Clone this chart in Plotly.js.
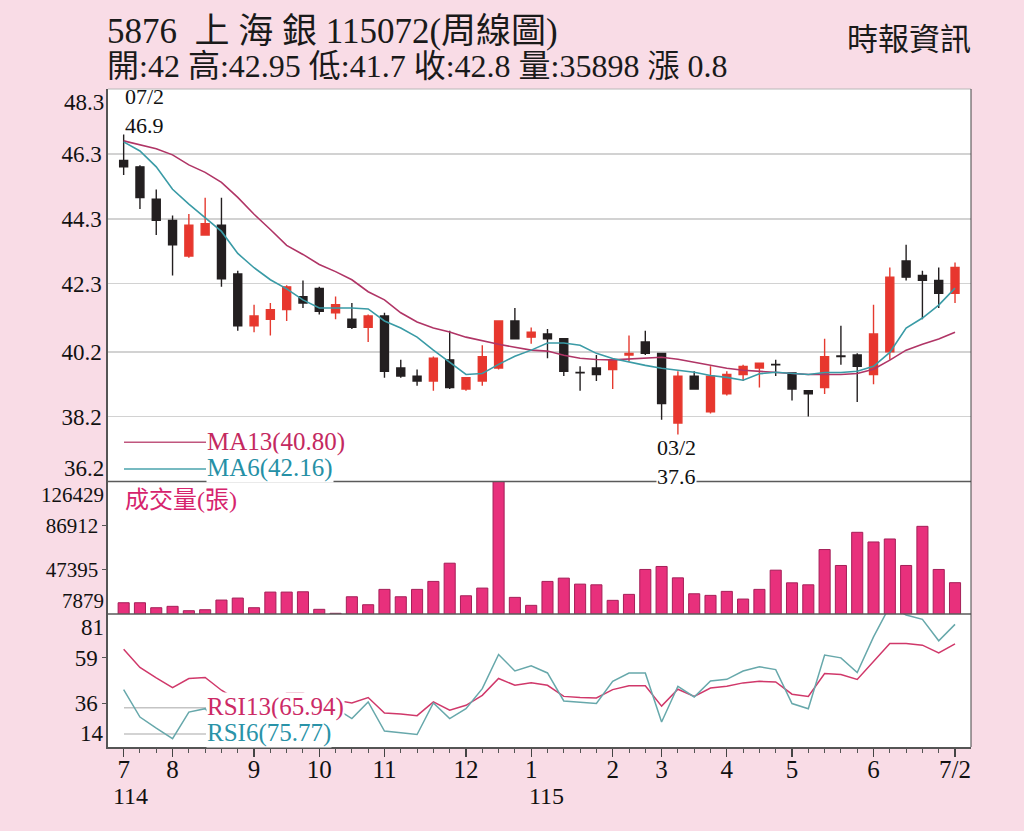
<!DOCTYPE html>
<html>
<head>
<meta charset="utf-8">
<script src="https://cdn.plot.ly/plotly-3.0.1.min.js"></script>
<style>
html,body{margin:0;padding:0;background:#f9dce6;}
#chart{width:1024px;height:831px;}
</style>
</head>
<body>
<div id="chart"></div>
<script>
// ---------- data ----------
const monthTickIdx  = [0, 3, 8, 12, 16, 21, 25, 30, 33, 37, 41, 46, 51];
const monthTickText = ['7','8','9','10','11','12','1','2','3','4','5','6','7/2'];

const openP  = [46.1,45.9,44.9,44.25,43.15,43.8,44.1,42.6,41.0,41.2,41.5,41.9,42.15,41.4,41.2,40.95,41.3,39.7,39.45,39.3,39.95,39.05,39.3,39.7,41.15,40.65,40.75,40.6,39.56,39.7,39.65,40.1,40.5,40.15,38.0,39.45,38.35,38.9,39.5,39.7,39.81,39.55,39.0,39.1,40.07,40.1,39.5,40.2,43.0,42.55,42.4,42.0];
const highP  = [46.9,45.95,45.2,44.4,44.45,44.95,44.95,42.7,41.65,41.7,42.25,42.4,42.2,41.9,41.7,41.35,41.4,39.95,39.65,40.05,40.85,39.4,40.4,41.15,41.55,40.95,40.9,40.6,39.75,40.1,39.95,40.7,40.85,40.15,39.6,39.6,39.75,39.6,39.8,39.85,39.95,39.55,39.0,40.6,41.0,40.15,41.65,42.8,43.5,42.7,42.8,42.95];
const lowP   = [45.65,44.6,43.8,42.55,43.1,43.8,42.2,40.85,40.8,40.7,41.15,41.55,41.35,41.2,40.9,40.5,39.4,39.4,39.15,39.0,39.05,39.0,39.15,39.65,40.6,40.45,40.0,39.45,39.0,39.3,39.05,39.9,40.1,38.1,37.6,39.05,38.3,38.85,39.3,39.1,39.45,38.7,38.2,38.9,39.8,38.65,39.2,39.95,42.4,41.2,41.55,41.7];
const closeP = [45.9,44.95,44.25,43.5,44.1,44.15,42.45,41.0,41.3,41.5,42.2,41.7,41.45,41.65,40.95,41.3,39.6,39.45,39.3,40.0,39.1,39.4,40.05,41.15,40.6,40.8,40.6,39.6,39.55,39.5,39.95,40.15,40.15,38.6,39.45,39.05,39.45,39.5,39.75,39.85,39.8,39.05,38.9,40.05,40.05,39.75,40.75,42.5,42.5,42.4,42.0,42.8];

const ma13 = [46.70,46.58,46.46,46.27,45.96,45.73,45.42,44.96,44.44,43.97,43.48,43.20,42.89,42.67,42.42,42.05,41.80,41.40,41.12,40.93,40.81,40.65,40.53,40.43,40.34,40.25,40.22,40.09,40.00,39.96,39.95,39.97,39.99,40.03,39.97,39.88,39.78,39.69,39.63,39.60,39.57,39.53,39.50,39.50,39.50,39.53,39.66,39.94,40.25,40.43,40.59,40.80];
const ma6  = [46.67,46.39,45.90,45.21,44.75,44.34,43.91,43.23,42.79,42.42,42.14,41.80,41.55,41.55,41.55,41.52,41.15,40.93,40.65,40.25,39.88,39.50,39.53,39.81,40.06,40.25,40.47,40.47,40.40,40.15,39.99,39.88,39.78,39.69,39.63,39.57,39.47,39.41,39.32,39.52,39.57,39.53,39.50,39.56,39.56,39.60,39.75,40.18,40.93,41.24,41.64,42.16];

const volume = [17950,17950,13500,14740,10820,11710,20360,22140,13500,27490,27490,27760,12070,8500,23300,16170,29900,23300,29900,37030,53340,24190,31060,140000,22770,15630,37030,39970,34620,34000,20090,25440,47730,50400,40240,25970,24550,28110,21250,29900,47100,35780,34000,65550,51290,80970,72330,75000,51290,86320,47730,35898];

const rsi13 = [63.2,54.1,48.8,43.9,48.5,49.0,42.6,37.5,36.0,37.5,41.1,41.1,39.0,37.5,36.2,38.9,31.1,30.6,29.8,36.7,32.5,35.0,40.0,48.5,45.1,46.3,45.1,39.5,38.9,38.7,42.9,44.8,44.8,34.6,43.1,39.5,43.7,44.6,46.3,47.1,46.8,40.6,39.5,51.0,50.5,48.0,56.9,66.2,66.2,65.3,61.4,65.94];
const rsi6  = [42.9,29.1,23.5,18.2,31.6,33.3,24.9,19.8,23.4,26.4,35.0,33.5,31.0,33.5,28.3,36.7,22.0,21.2,20.3,36.2,28.3,33.3,43.4,60.6,52.3,54.9,51.3,37.2,36.7,35.9,47.1,51.3,51.3,26.6,44.6,39.2,47.3,48.1,52.3,54.4,53.0,35.9,33.3,60.3,58.9,51.5,69.5,85.0,80.5,78.3,67.5,75.77];

const priceTicks = [38.2, 40.2, 42.3, 44.3, 46.3];
const volTicks   = [47395, 86912];
const rsiTicks   = [36, 59];

// ---------- layout helpers ----------
const L = 108, R = 971, T = 89, B = 747;
const py = y => (B - y) / (B - T);
const px = x => (x - L) / (R - L);
const SERIF = "'Liberation Serif', 'Times New Roman', 'Noto Sans CJK TC', serif";
const CJK = "'Noto Sans CJK TC', 'Liberation Serif', sans-serif";
const xs = closeP.map((_, i) => i);

const priceDom = [py(481.5), 1];
const volDom   = [py(614), py(481.5)];
const rsiDom   = [0, py(614)];

const traces = [
  {type:'candlestick', x: xs, open: openP, high: highP, low: lowP, close: closeP,
   xaxis:'x', yaxis:'y', hoverinfo:'skip', showlegend:false, whiskerwidth:0,
   increasing:{line:{color:'#e53a2f', width:1.4}, fillcolor:'#e8362e'},
   decreasing:{line:{color:'#231f20', width:1.4}, fillcolor:'#231f20'}},
  {type:'scatter', mode:'lines', x: xs, y: ma13, xaxis:'x', yaxis:'y',
   line:{color:'#b03566', width:1.6}, hoverinfo:'skip'},
  {type:'scatter', mode:'lines', x: xs, y: ma6, xaxis:'x', yaxis:'y',
   line:{color:'#3a9ba6', width:1.6}, hoverinfo:'skip'},
  {type:'bar', x: xs, y: volume, xaxis:'x', yaxis:'y2', width:0.68,
   marker:{color:'#e8307c', line:{color:'#a51f58', width:1}}, hoverinfo:'skip'},
  {type:'scatter', mode:'lines', x: xs, y: rsi13, xaxis:'x', yaxis:'y3',
   line:{color:'#d0386a', width:1.5}, hoverinfo:'skip'},
  {type:'scatter', mode:'lines', x: xs, y: rsi6, xaxis:'x', yaxis:'y3',
   line:{color:'#67a8ab', width:1.5}, hoverinfo:'skip'}
];

function ann(o){ return Object.assign({showarrow:false, borderpad:0}, o); }

const annotations = [
  ann({xref:'paper', yref:'paper', x:px(106), y:py(31), xanchor:'left', yanchor:'middle',
       text:'5876\u00a0\u00a0上 海 銀 115072(周線圖)', font:{family:SERIF, size:35, color:'#1a1a1a'}}),
  ann({xref:'paper', yref:'paper', x:px(106), y:py(66), xanchor:'left', yanchor:'middle',
       text:'開:42 高:42.95 低:41.7 收:42.8 量:35898 漲 0.8', font:{family:SERIF, size:32, color:'#1a1a1a'}}),
  ann({xref:'paper', yref:'paper', x:px(972), y:py(36), xanchor:'right', yanchor:'middle',
       text:'時報資訊', font:{family:CJK, size:31, color:'#1a1a1a'}}),

  ann({xref:'x', yref:'paper', x:0, y:py(111), xanchor:'left', yanchor:'middle', align:'left',
       text:'07/2<br>46.9', font:{family:SERIF, size:22, color:'#111'}}),
  ann({xref:'x', yref:'paper', x:32.65, y:py(462), xanchor:'left', yanchor:'middle', align:'left',
       text:'03/2<br>37.6', font:{family:SERIF, size:22, color:'#111'}, bgcolor:'#ffffff'}),

  ann({xref:'paper', yref:'paper', x:px(206), y:py(442), xanchor:'left', yanchor:'middle',
       text:'MA13(40.80)', font:{family:SERIF, size:25, color:'#c4295f'}, bgcolor:'#ffffff'}),
  ann({xref:'paper', yref:'paper', x:px(206), y:py(468), xanchor:'left', yanchor:'middle',
       text:'MA6(42.16)', font:{family:SERIF, size:25, color:'#2590a6'}, bgcolor:'#ffffff'}),
  ann({xref:'paper', yref:'paper', x:px(124), y:py(500), xanchor:'left', yanchor:'middle',
       text:'成交量(張)', font:{family:SERIF, size:24, color:'#d6246d'}}),
  ann({xref:'paper', yref:'paper', x:px(206), y:py(706.5), xanchor:'left', yanchor:'middle',
       text:'RSI13(65.94)', font:{family:SERIF, size:25, color:'#cc2a66'}, bgcolor:'#ffffff'}),
  ann({xref:'paper', yref:'paper', x:px(206), y:py(733), xanchor:'left', yanchor:'middle',
       text:'RSI6(75.77)', font:{family:SERIF, size:25, color:'#2a93a8'}, bgcolor:'#ffffff'}),

  // edge tick labels (drawn inside the panel limits like the original)
  ann({xref:'paper', yref:'y', x:0, y:48.3, xanchor:'right', yanchor:'top', xshift:-3,
       text:'48.3', font:{family:SERIF, size:23, color:'#111'}}),
  ann({xref:'paper', yref:'y', x:0, y:36.2, xanchor:'right', yanchor:'bottom', xshift:-3,
       text:'36.2', font:{family:SERIF, size:23, color:'#111'}}),
  ann({xref:'paper', yref:'y2', x:0, y:126429, xanchor:'right', yanchor:'top', xshift:-3,
       text:'126429', font:{family:SERIF, size:21, color:'#111'}}),
  ann({xref:'paper', yref:'y2', x:0, y:7879, xanchor:'right', yanchor:'bottom', xshift:-3,
       text:'7879', font:{family:SERIF, size:21, color:'#111'}}),
  ann({xref:'paper', yref:'y3', x:0, y:81, xanchor:'right', yanchor:'top', xshift:-3,
       text:'81', font:{family:SERIF, size:23, color:'#111'}}),
  ann({xref:'paper', yref:'y3', x:0, y:14, xanchor:'right', yanchor:'bottom', xshift:-3,
       text:'14', font:{family:SERIF, size:23, color:'#111'}}),

  // year labels under the month axis
  ann({xref:'x', yref:'paper', x:-0.74, y:py(796), xanchor:'left', yanchor:'middle',
       text:'114', font:{family:SERIF, size:24, color:'#111'}}),
  ann({xref:'x', yref:'paper', x:24.8, y:py(796), xanchor:'left', yanchor:'middle',
       text:'115', font:{family:SERIF, size:24, color:'#111'}})
];

function hline(y, x0, x1, color, width, layer){
  return {type:'line', xref:'paper', yref:'paper', x0:x0, x1:x1, y0:y, y1:y,
          line:{color:color, width:width}, layer:layer || 'above'};
}

const shapes = [
  // legend keys
  hline(py(442.3), px(124), px(206), '#c0567e', 1.5, 'below'),
  hline(py(469),   px(124), px(206), '#4aa3ad', 1.5, 'below'),
  hline(py(707.7), px(124), px(206), '#c4c4c4', 1.5, 'below'),
  hline(py(734),   px(124), px(206), '#c4c4c4', 1.5, 'below'),
  // frame
  hline(1, 0, 1, '#b8b8b8', 1),
  hline(py(481.5), 0, 1, '#5a5a5a', 1.6),
  hline(py(614), 0, 1, '#5a5a5a', 1.6),
  {type:'line', xref:'paper', yref:'paper', x0:1, x1:1, y0:0, y1:1,
   line:{color:'#444', width:1}, layer:'above'}
];

const layout = {
  width:1024, height:831,
  paper_bgcolor:'#f9dce6', plot_bgcolor:'#ffffff',
  margin:{l:L, r:1024-R, t:T, b:831-B, pad:0},
  showlegend:false, hovermode:false,
  font:{family:SERIF, color:'#111'},
  xaxis:{anchor:'y3', range:[-0.96, 51.98], tickmode:'array', tickvals:monthTickIdx, ticktext:monthTickText,
         ticks:'outside', ticklen:8, tickwidth:1.3, tickcolor:'#444', ticklabelstandoff:-9,
         minor:{tickmode:'linear', tick0:0, dtick:1, ticks:'outside', ticklen:4, tickcolor:'#555', tickwidth:1},
         showline:true, linecolor:'#555', linewidth:1.6, showgrid:false, zeroline:false,
         rangeslider:{visible:false}, tickfont:{family:SERIF, size:25, color:'#111'}, fixedrange:true},
  yaxis:{domain:priceDom, anchor:'x', range:[36.2, 48.3], tickmode:'array', tickvals:priceTicks,
         ticktext:priceTicks.map(v => v.toFixed(1)), ticks:'', showgrid:true, gridcolor:'#d2d2d2', gridwidth:1.5,
         showline:true, linecolor:'#555', linewidth:1.6, zeroline:false,
         tickfont:{family:SERIF, size:23, color:'#111'}, fixedrange:true},
  yaxis2:{domain:volDom, anchor:'x', range:[7879, 126429], tickmode:'array', tickvals:volTicks,
          ticktext:volTicks.map(String), ticks:'outside', ticklen:4, tickcolor:'#555', showgrid:false,
          showline:true, linecolor:'#555', linewidth:1.6, zeroline:false,
          tickfont:{family:SERIF, size:21, color:'#111'}, fixedrange:true},
  yaxis3:{domain:rsiDom, anchor:'x', range:[14, 81], tickmode:'array', tickvals:rsiTicks,
          ticktext:rsiTicks.map(String), ticks:'outside', ticklen:4, tickcolor:'#555', showgrid:false,
          showline:true, linecolor:'#555', linewidth:1.6, zeroline:false,
          tickfont:{family:SERIF, size:23, color:'#111'}, fixedrange:true},
  annotations: annotations,
  shapes: shapes
};

Plotly.newPlot('chart', traces, layout, {staticPlot:true, displayModeBar:false});
</script>
</body>
</html>
